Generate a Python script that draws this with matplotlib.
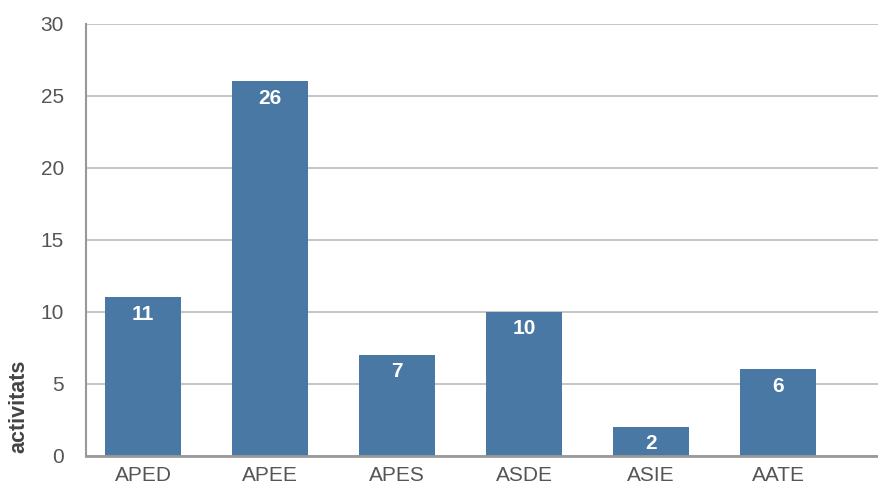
import matplotlib.pyplot as plt

categories = ["APED", "APEE", "APES", "ASDE", "ASIE", "AATE"]
values = [11, 26, 7, 10, 2, 6]
y_ticks = [0, 5, 10, 15, 20, 25, 30]

BAR_COLOR = "#4878a3"


def main() -> None:
    plt.rcParams["font.family"] = ["Liberation Sans", "DejaVu Sans"]

    fig = plt.figure(figsize=(8.79, 4.86), dpi=100)
    ax = fig.add_axes([0.098, 0.062, 0.902, 0.889])

    x = range(len(categories))
    bars = ax.bar(x, values, width=0.6, color=BAR_COLOR, zorder=2)

    for bar, value in zip(bars, values):
        ax.annotate(
            str(value),
            (bar.get_x() + bar.get_width() / 2, bar.get_height()),
            xytext=(0, -12),
            textcoords="offset points",
            ha="center",
            va="center",
            color="white",
            fontsize=15,
            fontweight="bold",
            zorder=3,
        )

    ax.set_ylim(0, 30)
    ax.set_xlim(-0.449, 5.795)
    ax.set_yticks(y_ticks)
    ax.set_xticks(list(x))
    ax.set_xticklabels(categories)

    ax.yaxis.grid(True, color="#bbbbbb", linewidth=1.2, zorder=0)
    ax.set_axisbelow(True)

    ax.spines["top"].set_visible(False)
    ax.spines["right"].set_visible(False)
    ax.spines["left"].set_color("#999999")
    ax.spines["left"].set_linewidth(1.5)
    ax.spines["bottom"].set_color("#999999")
    ax.spines["bottom"].set_linewidth(2)

    ax.tick_params(axis="both", length=0, labelsize=15, colors="#555555")
    ax.tick_params(axis="y", pad=16)
    ax.tick_params(axis="x", pad=7)

    # y label sits low on the left, as in the source chart
    fig.text(19 / 879, 1 - 406 / 486, "activitats", rotation=90,
             ha="center", va="center", fontsize=15.5, fontweight="bold",
             color="#444444")

    fig.savefig("out.png", dpi=100)


if __name__ == "__main__":
    main()
